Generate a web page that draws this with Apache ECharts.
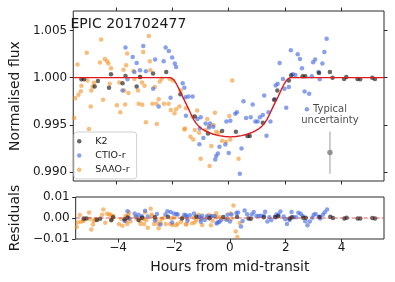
<!DOCTYPE html>
<html><head><meta charset="utf-8">
<script src="https://cdn.jsdelivr.net/npm/echarts@6/dist/echarts.min.js"></script>
<style>html,body{margin:0;padding:0;background:#fff}#c{width:395px;height:282px}</style>
</head><body><div id="c"></div>
<script>
// ---------- data ----------
const xTickValues = [-4, -2, 0, 2, 4];
const fluxTickValues = [0.990, 0.995, 1.000, 1.005];
const residTickValues = [-0.01, 0.00, 0.01];
const X_MIN = -5.52, X_MAX = 5.52;
const FLUX_MIN = 0.98904, FLUX_MAX = 1.00707;
const RES_MIN = -0.01, RES_MAX = 0.01;

const k2Hours = [-5.229,-5.135,-4.760,-4.644,-4.249,-4.179,-3.769,-3.664,-3.268,-3.149,-2.683,-2.217,-1.713,-1.201,-0.732,-0.231,0.259,0.669,0.750,1.215,1.615,1.730,2.140,2.221,2.630,2.721,3.212,3.597,3.692,4.102,4.182,4.578,4.672,5.103,5.198];
const k2Flux = [0.99982,0.99982,0.99907,0.99964,0.99893,1.00035,0.99942,1.00017,0.99907,1.00006,1.00043,1.00060,0.99825,0.99587,0.99408,0.99434,0.99426,0.99381,0.99381,0.99523,0.99765,0.99864,0.99971,1.00025,1.00014,1.00014,1.00049,1.00060,1.00000,0.99985,1.00006,0.99985,0.99982,1.00000,0.99985];
const k2Resid = [-0.0002,-0.0002,-0.0009,-0.0004,-0.0011,0.0004,-0.0006,0.0002,-0.0009,0.0001,0.0004,0.0006,-0.0002,0.0006,-0.0001,0.0005,0.0005,-0.0002,-0.0003,0.0003,0.0005,0.0008,-0.0002,0.0003,0.0001,0.0001,0.0005,0.0006,0.0000,-0.0002,0.0001,-0.0002,-0.0002,0.0000,-0.0002];

const ctioHours = [-3.664,-3.594,-3.408,-3.268,-3.348,-3.769,-3.149,-3.033,-2.939,-2.683,
 -2.613,-2.483,-2.238,-2.308,-2.123,-2.063,-2.007,-1.912,-1.867,-1.632,
 -1.538,-1.282,-1.517,-1.573,-1.433,-1.107,-0.991,-0.897,-0.816,-0.662,
 -0.697,-0.546,-0.081,0.060,0.235,0.294,0.529,0.620,0.785,0.855,
 0.949,1.030,1.110,1.264,1.345,1.415,1.485,1.650,1.671,1.741,
 1.811,1.986,2.046,2.140,2.210,2.280,2.371,2.455,2.536,2.606,
 2.700,2.862,2.956,3.002,3.072,3.191,3.236,3.331,3.401,3.482,
 2.781,-1.026,-1.04,-0.326,-0.382,-0.441,-0.476,-0.116,0.004,0.459,
 1.215,0.399,1.930];
const ctioFlux = [1.00320,0.99982,1.00220,1.00156,1.00060,0.99864,1.00078,1.00337,1.00067,0.99883,
 1.00192,0.99693,1.00320,1.00174,1.00284,0.99786,1.00214,1.00150,1.00113,0.99942,
 0.99793,0.99800,0.99597,0.99893,0.99800,0.99562,0.99579,0.99359,0.99515,0.99515,
 0.99472,0.99480,0.99536,0.99544,0.99616,0.99633,0.99750,0.99573,0.99579,0.99715,
 0.99536,0.99536,0.99579,0.99811,0.99384,0.99633,0.99536,0.99771,0.99918,0.99936,
 1.00156,0.99883,0.99680,0.99900,1.00292,1.00035,1.00028,1.00249,1.00199,1.00099,
 0.99854,0.99829,1.00014,1.00163,1.00192,1.00060,0.99982,1.00150,1.00273,1.00412,
 0.99665,0.99462,0.99295,0.99266,0.99195,0.99170,0.99131,0.99291,0.99202,0.99248,
 0.99605,0.98981,0.99985];
const ctioResid = [0.0032,-0.0002,0.0022,0.0016,0.0006,-0.0014,0.0008,0.0034,0.0007,-0.0012,
 0.0019,-0.0031,0.0032,0.0017,0.0028,-0.0021,0.0022,0.0019,0.0017,0.0015,
 0.0005,0.0022,-0.0013,0.0013,0.0013,0.0006,0.0011,-0.0009,0.0008,0.0010,
 0.0006,0.0008,0.0016,0.0017,0.0024,0.0026,0.0036,0.0018,0.0017,0.0029,
 0.0010,0.0009,0.0011,0.0030,-0.0017,0.0004,-0.0010,0.0004,0.0017,0.0015,
 0.0031,-0.0006,-0.0029,-0.0009,0.0029,0.0004,0.0003,0.0025,0.0020,0.0010,
 -0.0015,-0.0017,0.0001,0.0016,0.0019,0.0006,-0.0002,0.0015,0.0027,0.0041,
 -0.0034,-0.0001,-0.0018,-0.0012,-0.0019,-0.0022,-0.0026,-0.0008,-0.0017,-0.0014,
 0.0011,-0.0040,0.0007];

const saaoHours = [-5.485,-5.450,-5.369,-5.334,-5.250,-5.229,-5.040,-5.019,-4.879,-4.900,
 -4.830,-4.785,-4.574,-4.529,-4.459,-4.399,-4.319,-4.270,-4.224,-4.179,
 -3.968,-3.884,-3.849,-3.734,-3.709,-3.639,-3.604,-3.559,-3.384,-3.348,
 -3.219,-3.198,-3.128,-3.079,-3.033,-2.988,-2.939,-2.834,-2.799,-2.78,
 -2.708,-2.623,-2.567,-2.448,-2.378,-2.298,-2.133,-2.098,-1.982,-1.867,
 -1.702,-1.573,-4.960,-3.674,-3.068,-2.55,-2.483,-2.053,-1.923,-1.748,
 -1.517,-1.552,-1.282,-1.117,-1.201,-1.352,-1.257,-1.047,-0.816,-0.697,
 -0.536,-0.487,-0.441,-0.347,0.025,-0.231,-0.091,0.060,-0.616,-0.991,
 -0.676,0.354,0.130,-0.757,0.21,0.27];
const saaoFlux = [0.99573,0.99782,1.00139,0.99818,0.99857,0.99915,1.00263,0.99971,0.99864,0.99693,
 0.99907,0.99947,1.00160,1.00406,0.99765,1.00199,1.00174,1.00150,0.99936,1.00099,
 0.99707,0.99950,0.99633,1.00085,0.99864,1.00131,1.00256,0.99836,1.00070,0.99985,
 0.99864,0.99722,1.00006,0.99950,1.00273,0.99915,0.99526,1.00441,1.00174,1.00078,
 0.99722,0.99900,0.99722,0.99960,0.99989,0.99722,0.99722,0.99989,0.99971,0.99665,
 0.99864,0.99451,0.99455,0.99715,0.99712,0.99509,0.99771,0.99658,0.99622,0.99693,
 0.99675,0.99462,0.99587,0.99651,0.99445,0.99373,0.99344,0.99416,0.99445,0.99487,
 0.99498,0.99629,0.99427,0.99416,0.99594,0.99330,0.99320,0.99344,0.99274,0.99141,
 0.99063,0.99141,0.99971,0.99562,0.9874,0.9847];
const saaoResid = [-0.0043,-0.0022,0.0014,-0.0018,-0.0014,-0.0009,0.0026,-0.0003,-0.0014,-0.0031,
 -0.0009,-0.0005,0.0016,0.0041,-0.0023,0.0020,0.0017,0.0015,-0.0006,0.0010,
 -0.0029,-0.0005,-0.0037,0.0009,-0.0014,0.0013,0.0026,-0.0016,0.0007,-0.0002,
 -0.0014,-0.0028,0.0001,-0.0005,0.0027,-0.0009,-0.0047,0.0044,0.0017,0.0008,
 -0.0028,-0.0010,-0.0028,-0.0004,-0.0001,-0.0028,-0.0028,-0.0001,0.0002,-0.0027,
 0.0002,-0.0031,-0.0055,-0.0029,-0.0029,-0.0049,-0.0023,-0.0033,-0.0034,-0.0018,
 -0.0005,-0.0029,0.0001,0.0015,-0.0009,-0.0025,-0.0022,-0.0006,0.0001,0.0007,
 0.0010,0.0023,0.0004,0.0003,0.0022,-0.0005,-0.0005,-0.0003,-0.0013,-0.0033,
 -0.0035,-0.0024,0.0060,0.0014,-0.0064,-0.0091];

const modelHours = [-5.52,-2.06,-1.94,-1.84,-1.74,-1.64,-1.54,-1.44,-1.34,-1.24,-1.14,-1.04,-0.94,-0.74,-0.54,-0.34,-0.14,0.06,0.26,0.46,0.66,0.86,1.06,1.16,1.26,1.36,1.46,1.56,1.66,1.76,1.86,1.96,2.06,2.18,5.52];
const modelFlux = [1.0,1.0,0.99975,0.99925,0.99865,0.99800,0.99740,0.99680,0.99615,0.99555,0.99510,0.99478,0.99455,0.99422,0.99400,0.99385,0.99376,0.99372,0.99376,0.99385,0.99400,0.99422,0.99455,0.99478,0.99510,0.99555,0.99615,0.99680,0.99740,0.99800,0.99865,0.99925,0.99975,1.0,1.0];

const errHour = 3.6, errFlux = 0.99205, errHalf = 0.00223;
const noteHour = 3.6, noteFlux = 0.99605;
const noteText = 'Typical\nuncertainty';
const titleText = 'EPIC 201702477';

// ---------- chart ----------
const FONT = 'DejaVu Sans';
const INK = '#1a1a1a';
const FRAME = '#2a2a2a';
const C_K2 = 'rgba(20,20,20,0.8)';
const C_CTIO = 'rgba(65,105,225,0.78)';
const C_SAAO = 'rgba(245,145,35,0.75)';
const zip = (a, b) => a.map((v, i) => [v, b[i]]);
const signed = s => s.replace('-', '\u2212');

const tick = vals => ({show: true, inside: false, length: 3.5, customValues: vals, lineStyle: {color: FRAME, width: 1}});
const baseAxis = {type: 'value', axisLine: {show: false, onZero: false}, splitLine: {show: false}};

const chart = echarts.init(document.getElementById('c'));
const pt = (name, data, color, xi, yi, z) => ({
  type: 'scatter', name, data, xAxisIndex: xi, yAxisIndex: yi, symbol: 'circle', symbolSize: 4.5,
  itemStyle: {color}, clip: true, silent: true, z, emphasis: {disabled: true}
});

chart.setOption({
  animation: false,
  textStyle: {fontFamily: FONT},
  title: {text: titleText, left: 70.5, top: 17, padding: 0,
          textStyle: {fontFamily: FONT, fontSize: 14, fontWeight: 'normal', color: INK}},
  grid: [
    {left: 69, right: 11, top: 11, height: 170, show: true, borderColor: FRAME, borderWidth: 1, backgroundColor: 'transparent'},
    {left: 69, right: 11, top: 197, height: 42, show: true, borderColor: FRAME, borderWidth: 1, backgroundColor: 'transparent'}
  ],
  legend: {
    orient: 'vertical', left: 74, top: 132,
    data: [{name: 'K2', icon: 'circle'}, {name: 'CTIO-r', icon: 'circle'}, {name: 'SAAO-r', icon: 'circle'}],
    itemWidth: 22, itemHeight: 4.5, itemGap: 2, padding: [3, 7, 3, 3],
    borderColor: '#d0d0d0', borderWidth: 1, borderRadius: 3, backgroundColor: 'rgba(255,255,255,0.8)',
    textStyle: {fontFamily: FONT, fontSize: 9.5, color: INK, lineHeight: 12.3},
    selectedMode: false
  },
  xAxis: [
    Object.assign({}, baseAxis, {gridIndex: 0, position: 'bottom', min: X_MIN, max: X_MAX, axisTick: tick(xTickValues), axisLabel: {show: false}}),
    Object.assign({}, baseAxis, {gridIndex: 0, position: 'top', min: X_MIN, max: X_MAX, axisTick: tick(xTickValues), axisLabel: {show: false}}),
    Object.assign({}, baseAxis, {gridIndex: 1, position: 'bottom', min: X_MIN, max: X_MAX, axisTick: tick(xTickValues),
      axisLabel: {show: true, customValues: xTickValues, margin: 2.5, fontFamily: FONT, fontSize: 12, color: INK, formatter: v => signed(String(v))},
      name: 'Hours from mid-transit', nameLocation: 'middle', nameGap: 21,
      nameTextStyle: {fontFamily: FONT, fontSize: 14, color: INK}})
  ],
  yAxis: [
    Object.assign({}, baseAxis, {gridIndex: 0, position: 'left', min: FLUX_MIN, max: FLUX_MAX, axisTick: tick(fluxTickValues),
      axisLabel: {show: true, customValues: fluxTickValues, margin: 6, fontFamily: FONT, fontSize: 12, color: INK, formatter: v => v.toFixed(3)},
      name: 'Normalised flux', nameLocation: 'middle', nameGap: 41,
      nameTextStyle: {fontFamily: FONT, fontSize: 14, color: INK}}),
    Object.assign({}, baseAxis, {gridIndex: 0, position: 'right', min: FLUX_MIN, max: FLUX_MAX, axisTick: tick(fluxTickValues), axisLabel: {show: false}}),
    Object.assign({}, baseAxis, {gridIndex: 1, position: 'left', min: RES_MIN, max: RES_MAX, axisTick: tick(residTickValues),
      axisLabel: {show: true, customValues: residTickValues, margin: 6, fontFamily: FONT, fontSize: 12, color: INK, formatter: v => signed(v.toFixed(2))},
      name: 'Residuals', nameLocation: 'middle', nameGap: 41,
      nameTextStyle: {fontFamily: FONT, fontSize: 14, color: INK}})
  ],
  series: [
    pt('SAAO-r', zip(saaoHours, saaoFlux), C_SAAO, 0, 0, 2),
    pt('CTIO-r', zip(ctioHours, ctioFlux), C_CTIO, 0, 0, 3),
    pt('K2', zip(k2Hours, k2Flux), C_K2, 0, 0, 4),
    {type: 'line', name: 'model', data: zip(modelHours, modelFlux), xAxisIndex: 0, yAxisIndex: 0, showSymbol: false, symbol: 'none',
     lineStyle: {color: '#e0191c', width: 1.4}, silent: true, z: 5, clip: true},
    {type: 'line', name: 'errbar', data: [[errHour, errFlux - errHalf], [errHour, errFlux + errHalf]], xAxisIndex: 0, yAxisIndex: 0,
     symbol: 'none', lineStyle: {color: '#9a9a9a', width: 1}, silent: true, z: 5},
    {type: 'scatter', name: 'errpt', data: [[errHour, errFlux]], xAxisIndex: 0, yAxisIndex: 0, symbolSize: 5.5,
     itemStyle: {color: '#7f7f7f'}, silent: true, z: 6},
    {type: 'scatter', name: 'note', data: [[noteHour, noteFlux]], xAxisIndex: 0, yAxisIndex: 0, symbolSize: 0, silent: true, z: 6,
     label: {show: true, position: 'inside', formatter: noteText, fontFamily: FONT, fontSize: 10, lineHeight: 11, color: INK, align: 'center'}},
    pt('SAAO-r', zip(saaoHours, saaoResid), C_SAAO, 2, 2, 2),
    pt('CTIO-r', zip(ctioHours, ctioResid), C_CTIO, 2, 2, 3),
    pt('K2', zip(k2Hours, k2Resid), C_K2, 2, 2, 4),
    {type: 'line', name: 'zero', data: [[X_MIN, 0], [X_MAX, 0]], xAxisIndex: 2, yAxisIndex: 2, symbol: 'none',
     lineStyle: {color: 'rgba(205,60,60,0.55)', width: 1.5, type: [4, 2]}, silent: true, z: 5}
  ]
});
</script></body></html>
